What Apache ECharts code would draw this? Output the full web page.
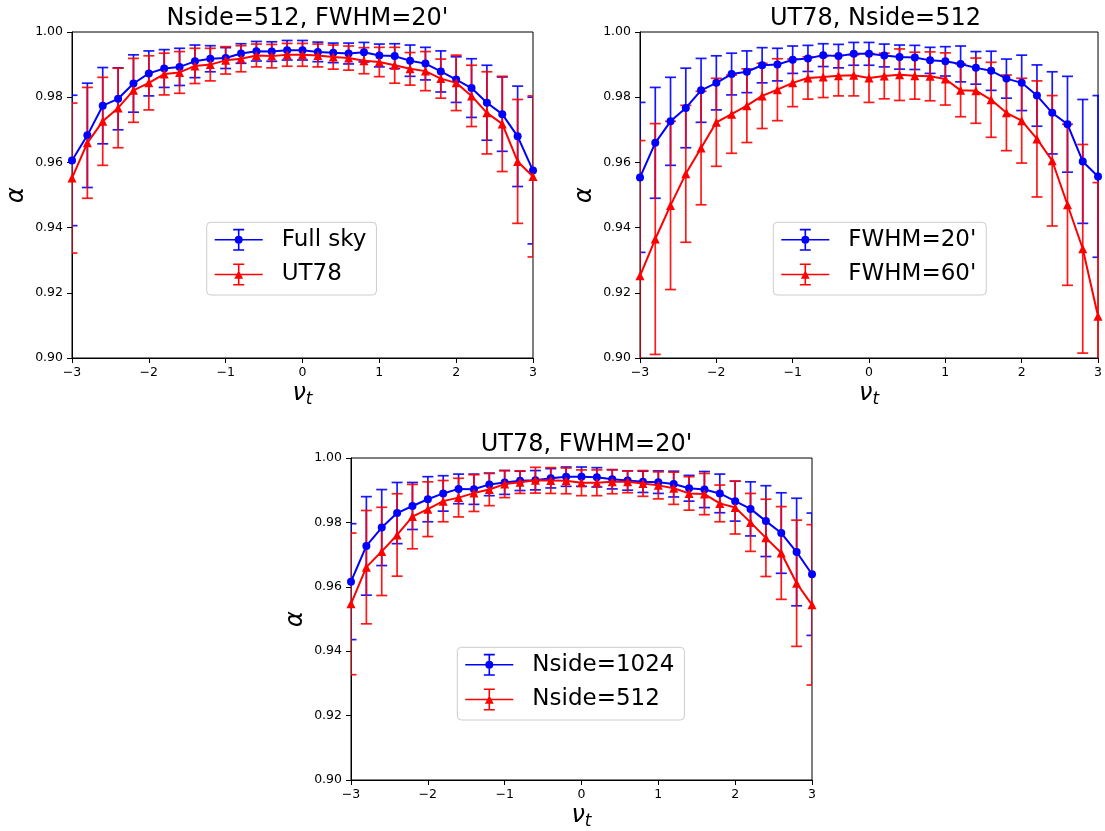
<!DOCTYPE html>
<html><head><meta charset="utf-8">
<script src="https://cdn.jsdelivr.net/npm/echarts/dist/echarts.min.js"></script>
<style>html,body{margin:0;padding:0;background:#fff}#c{width:1105px;height:831px}</style>
</head><body><div id="c"></div>
<script>
// x positions (nu_t)
const nuT = [-3.0,-2.8,-2.6,-2.4,-2.2,-2.0,-1.8,-1.6,-1.4,-1.2,-1.0,-0.8,-0.6,-0.4,-0.2,0.0,0.2,0.4,0.6,0.8,1.0,1.2,1.4,1.6,1.8,2.0,2.2,2.4,2.6,2.8,3.0];
const xTicks = [-3,-2,-1,0,1,2,3];
const yTicks = [0.90,0.92,0.94,0.96,0.98,1.00];

// Panel 1: Nside=512, FWHM=20'
const fullSky    = [0.9606,0.9683,0.9774,0.9795,0.9842,0.9873,0.9888,0.9893,0.9910,0.9918,0.9920,0.9934,0.9941,0.9940,0.9944,0.9944,0.9939,0.9936,0.9934,0.9938,0.9928,0.9926,0.9912,0.9903,0.9879,0.9854,0.9828,0.9783,0.9748,0.9680,0.9575];
const fullSkyErr = [0.0200,0.0160,0.0117,0.0095,0.0088,0.0069,0.0058,0.0057,0.0050,0.0040,0.0032,0.0030,0.0030,0.0030,0.0030,0.0030,0.0030,0.0030,0.0032,0.0030,0.0035,0.0038,0.0048,0.0050,0.0063,0.0070,0.0090,0.0115,0.0114,0.0154,0.0225];
const ut78       = [0.9552,0.9660,0.9726,0.9767,0.9821,0.9844,0.9871,0.9876,0.9896,0.9900,0.9913,0.9918,0.9928,0.9926,0.9930,0.9930,0.9928,0.9923,0.9920,0.9912,0.9908,0.9898,0.9887,0.9880,0.9857,0.9844,0.9804,0.9752,0.9718,0.9603,0.9557];
const ut78Err    = [0.0230,0.0170,0.0135,0.0122,0.0098,0.0083,0.0064,0.0064,0.0054,0.0050,0.0042,0.0040,0.0035,0.0036,0.0035,0.0035,0.0035,0.0037,0.0037,0.0040,0.0045,0.0055,0.0050,0.0060,0.0060,0.0085,0.0094,0.0126,0.0146,0.0190,0.0247];

// Panel 2: UT78, Nside=512
const fwhm20     = [0.9554,0.9660,0.9726,0.9767,0.9821,0.9844,0.9871,0.9878,0.9898,0.9900,0.9915,0.9919,0.9929,0.9926,0.9933,0.9933,0.9928,0.9923,0.9922,0.9913,0.9910,0.9902,0.9890,0.9881,0.9857,0.9844,0.9805,0.9752,0.9717,0.9603,0.9557];
const fwhm20Err  = [0.0230,0.0170,0.0135,0.0122,0.0098,0.0083,0.0064,0.0064,0.0054,0.0050,0.0042,0.0040,0.0035,0.0036,0.0035,0.0035,0.0035,0.0037,0.0037,0.0040,0.0045,0.0055,0.0050,0.0060,0.0060,0.0085,0.0094,0.0126,0.0147,0.0190,0.0248];
const fwhm60     = [0.9252,0.9365,0.9468,0.9565,0.9644,0.9723,0.9748,0.9774,0.9804,0.9823,0.9844,0.9859,0.9862,0.9866,0.9867,0.9859,0.9865,0.9869,0.9866,0.9864,0.9856,0.9821,0.9820,0.9792,0.9752,0.9728,0.9672,0.9605,0.9470,0.9335,0.9128];
const fwhm60Err  = [0.0415,0.0354,0.0258,0.0210,0.0174,0.0135,0.0120,0.0113,0.0100,0.0095,0.0073,0.0065,0.0063,0.0062,0.0063,0.0075,0.0070,0.0079,0.0072,0.0075,0.0080,0.0081,0.0100,0.0115,0.0116,0.0130,0.0178,0.0200,0.0247,0.0320,0.0410];

// Panel 3: UT78, FWHM=20'
const nside1024    = [0.9616,0.9727,0.9784,0.9829,0.9851,0.9872,0.9890,0.9904,0.9903,0.9918,0.9924,0.9929,0.9931,0.9937,0.9942,0.9942,0.9940,0.9934,0.9930,0.9926,0.9925,0.9919,0.9906,0.9902,0.9890,0.9866,0.9842,0.9804,0.9767,0.9708,0.9639];
const nside1024Err = [0.0180,0.0153,0.0118,0.0095,0.0073,0.0070,0.0055,0.0046,0.0047,0.0035,0.0037,0.0030,0.0030,0.0030,0.0030,0.0030,0.0030,0.0030,0.0030,0.0033,0.0035,0.0040,0.0040,0.0056,0.0060,0.0062,0.0084,0.0110,0.0125,0.0167,0.0190];
const nside512     = [0.9547,0.9661,0.9710,0.9761,0.9818,0.9841,0.9866,0.9877,0.9891,0.9902,0.9919,0.9925,0.9931,0.9930,0.9929,0.9923,0.9923,0.9926,0.9926,0.9921,0.9915,0.9906,0.9890,0.9888,0.9859,0.9846,0.9800,0.9752,0.9705,0.9611,0.9544];
const nside512Err  = [0.0220,0.0176,0.0137,0.0128,0.0100,0.0085,0.0064,0.0060,0.0057,0.0050,0.0042,0.0035,0.0040,0.0040,0.0040,0.0040,0.0040,0.0037,0.0034,0.0040,0.0042,0.0050,0.0052,0.0064,0.0057,0.0082,0.0090,0.0120,0.0144,0.0196,0.0249];

const titles = ["Nside=512, FWHM=20'", "UT78, Nside=512", "UT78, FWHM=20'"];
const panels = [
  {blue: {name:'Full sky', v: fullSky, e: fullSkyErr}, red: {name:'UT78', v: ut78, e: ut78Err}},
  {blue: {name:"FWHM=20'", v: fwhm20, e: fwhm20Err}, red: {name:"FWHM=60'", v: fwhm60, e: fwhm60Err}},
  {blue: {name:'Nside=1024', v: nside1024, e: nside1024Err}, red: {name:'Nside=512', v: nside512, e: nside512Err}}
];

const FONT = 'DejaVu Sans';
const BLUE = '#0000ff', RED = '#ff0000';
const gridPos = [
  {left: 72, top: 32, width: 461, height: 326},
  {left: 640, top: 32, width: 461, height: 326},
  {left: 351, top: 458, width: 461, height: 326}
];
const titlePos = [{x: 302.5, y: 2}, {x: 870.5, y: 2}, {x: 581.5, y: 428}];
const legendPos = [{x: 206.7, y: 222.3}, {x: 773.3, y: 222.3}, {x: 457.3, y: 647.3}];

const iconCircle = 'path://M0 10.2H48V11.8H0Z M23.2 0H24.8V22H23.2Z M18.5 0H29.5V1.6H18.5Z M18.5 20.4H29.5V22H18.5Z M28 11A4 4 0 1 1 20 11A4 4 0 1 1 28 11Z';
const iconTri = 'path://M0 10.2H48V11.8H0Z M23.2 0H24.8V22H23.2Z M18.5 0H29.5V1.6H18.5Z M18.5 20.4H29.5V22H18.5Z M24 6.8L28.4 15.2L19.6 15.2Z';

function errRender(color) {
  return function (params, api) {
    const x = api.value(0), lo = api.value(1), hi = api.value(2);
    const a = api.coord([x, lo]), b = api.coord([x, hi]);
    const hw = 5.5;
    const st = {stroke: color, lineWidth: 1.7, opacity: 0.9};
    return {type: 'group', children: [
      {type: 'line', shape: {x1: a[0], y1: a[1], x2: b[0], y2: b[1]}, style: st},
      {type: 'line', shape: {x1: a[0] - hw, y1: a[1], x2: a[0] + hw, y2: a[1]}, style: st},
      {type: 'line', shape: {x1: b[0] - hw, y1: b[1], x2: b[0] + hw, y2: b[1]}, style: st}
    ]};
  };
}

const grid = [], xAxis = [], yAxis = [], series = [], title = [], legend = [];
panels.forEach((p, i) => {
  grid.push(Object.assign({show: true, borderColor: '#000', borderWidth: 1, backgroundColor: 'transparent'}, gridPos[i]));
  title.push({text: titles[i], left: titlePos[i].x, top: titlePos[i].y, textAlign: 'center',
    textStyle: {fontFamily: FONT, fontSize: 24, fontWeight: 'normal', color: '#000'}});
  xAxis.push({type: 'value', gridIndex: i, min: xTicks[0], max: xTicks[xTicks.length - 1], interval: 1,
    axisLine: {show: true, onZero: false, lineStyle: {color: '#000', width: 1}},
    axisTick: {show: true, length: 5, lineStyle: {color: '#000', width: 1}},
    axisLabel: {margin: 8, color: '#000', fontFamily: FONT, fontSize: 12.5, showMinLabel: true, showMaxLabel: true,
      formatter: v => String(v).replace('-', '\u2212')},
    splitLine: {show: false},
    name: '{a|\u03bd}{b|t}', nameLocation: 'middle', nameGap: 22,
    nameTextStyle: {rich: {
      a: {fontFamily: FONT, fontStyle: 'italic', fontSize: 24, lineHeight: 28, color: '#000'},
      b: {fontFamily: FONT, fontStyle: 'italic', fontSize: 17, lineHeight: 17, verticalAlign: 'bottom', color: '#000'}
    }}
  });
  yAxis.push({type: 'value', gridIndex: i, min: yTicks[0], max: yTicks[yTicks.length - 1], interval: 0.02,
    axisLine: {show: true, onZero: false, lineStyle: {color: '#000', width: 1}},
    axisTick: {show: true, length: 5, lineStyle: {color: '#000', width: 1}},
    axisLabel: {margin: 9, color: '#000', fontFamily: FONT, fontSize: 12.5, formatter: v => v.toFixed(2)},
    splitLine: {show: false},
    name: '\u03b1', nameLocation: 'middle', nameGap: 43, nameRotate: 90,
    nameTextStyle: {fontFamily: FONT, fontStyle: 'italic', fontSize: 24, color: '#000'}
  });
  [['blue', BLUE], ['red', RED]].forEach(([k, col]) => {
    const s = p[k];
    series.push({type: 'custom', name: s.name + ' err', xAxisIndex: i, yAxisIndex: i, clip: true, z: 2,
      renderItem: errRender(col), encode: {x: 0, y: [1, 2]},
      data: nuT.map((x, j) => [x, s.v[j] - s.e[j], s.v[j] + s.e[j]])});
  });
  [['blue', BLUE, 'circle', 8, 3], ['red', RED, 'triangle', 9, 4]].forEach(([k, col, sym, size, z]) => {
    const s = p[k];
    series.push({type: 'line', name: s.name, xAxisIndex: i, yAxisIndex: i, clip: true, z: z,
      symbol: sym, symbolSize: size, showAllSymbol: true,
      itemStyle: {color: col, borderWidth: 0},
      lineStyle: {color: col, width: 2},
      data: nuT.map((x, j) => [x, s.v[j]])});
  });
  legend.push({orient: 'vertical', left: legendPos[i].x, top: legendPos[i].y, z: 10,
    itemWidth: 48, itemHeight: 22, itemGap: 11.7, padding: [6, 10, 9, 8],
    borderColor: '#cccccc', borderWidth: 1, borderRadius: 4, backgroundColor: 'rgba(255,255,255,0.8)',
    selectedMode: false,
    itemStyle: {borderWidth: 0},
    textStyle: {fontFamily: FONT, fontSize: 23, color: '#000', padding: [0, 0, 0, 14], lineHeight: 22},
    data: [{name: p.blue.name, icon: iconCircle}, {name: p.red.name, icon: iconTri}]
  });
});

const chart = echarts.init(document.getElementById('c'), null, {renderer: 'canvas'});
chart.setOption({animation: false, backgroundColor: '#fff', title, grid, xAxis, yAxis, series, legend});
</script>
</body></html>
